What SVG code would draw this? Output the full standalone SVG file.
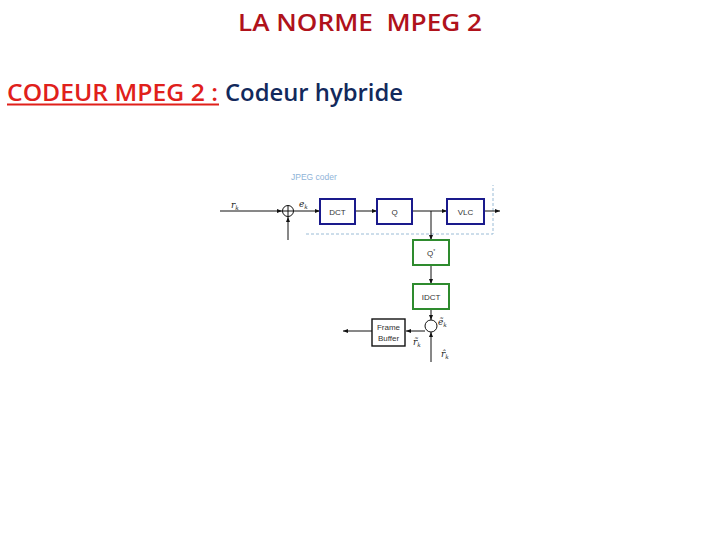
<svg xmlns="http://www.w3.org/2000/svg" width="720" height="540" viewBox="0 0 720 540">
<defs>
<marker id="ah" viewBox="0 0 10 10" refX="10" refY="5" markerWidth="5" markerHeight="5" orient="auto-start-reverse">
<path d="M0,1 L10,5 L0,9 z" fill="#111"/>
</marker>
<style>
.t1{font-family:"Open Sans","Liberation Sans",sans-serif;font-weight:600;font-size:23px;fill:#B0121B}
.t2{font-family:"Open Sans","Liberation Sans",sans-serif;font-weight:600;font-size:23px}
.lbl{font-family:"Liberation Sans",Arial,sans-serif;font-size:8px;fill:#333;text-anchor:middle}
.math{font-family:"DejaVu Serif","Liberation Serif",serif;font-style:italic;font-size:9px;fill:#222}
.sub{font-size:6px}
.blue{fill:#fff;stroke:#1A1A8C;stroke-width:2}
.green{fill:#fff;stroke:#2E8B2E;stroke-width:2}
.blk{fill:#fff;stroke:#111;stroke-width:1.4}
.ln{stroke:#111;stroke-width:1;fill:none}
.dash{stroke:#9BBCD6;stroke-width:1;stroke-dasharray:3,2;fill:none}
</style>
</defs>
<rect width="720" height="540" fill="#fff"/>
<text class="t1" x="360" y="31" text-anchor="middle" textLength="244" lengthAdjust="spacingAndGlyphs" xml:space="preserve">LA NORME  MPEG 2</text>
<text class="t2" x="7" y="101" fill="#E0201B" textLength="211" lengthAdjust="spacingAndGlyphs">CODEUR MPEG 2 :</text>
<line x1="7" y1="104.5" x2="219" y2="104.5" stroke="#E0201B" stroke-width="2"/>
<text class="t2" x="225" y="101" fill="#12295C" textLength="178" lengthAdjust="spacingAndGlyphs">Codeur hybride</text>

<g id="jpeg-boundary">
<path class="dash" d="M306,234 H493 V185"/>
<text x="291" y="180" font-family="Liberation Sans,Arial,sans-serif" font-size="8.5" fill="#8FB4D8">JPEG coder</text>
</g>

<g id="connectors">
<line class="ln" x1="220" y1="211" x2="282" y2="211" marker-end="url(#ah)"/>
<line class="ln" x1="288" y1="240" x2="288" y2="217" marker-end="url(#ah)"/>
<line class="ln" x1="294" y1="211" x2="320" y2="211" marker-end="url(#ah)"/>
<line class="ln" x1="355" y1="211" x2="377" y2="211" marker-end="url(#ah)"/>
<line class="ln" x1="412" y1="211" x2="447" y2="211" marker-end="url(#ah)"/>
<line class="ln" x1="484" y1="211" x2="500" y2="211" marker-end="url(#ah)"/>
<line class="ln" x1="431" y1="211" x2="431" y2="240" marker-end="url(#ah)"/>
<line class="ln" x1="431" y1="265" x2="431" y2="284" marker-end="url(#ah)"/>
<line class="ln" x1="431" y1="309" x2="431" y2="320" marker-end="url(#ah)"/>
<line class="ln" x1="431" y1="362" x2="431" y2="332" marker-end="url(#ah)"/>
<line class="ln" x1="425" y1="331" x2="406" y2="331" marker-end="url(#ah)"/>
<line class="ln" x1="372" y1="331" x2="343" y2="331" marker-end="url(#ah)"/>
</g>

<g id="sum1">
<circle cx="288" cy="211" r="5.5" fill="#fff" stroke="#111" stroke-width="1"/>
<path class="ln" d="M282.5,211 H293.5 M288,205.5 V216.5"/>
</g>
<g id="sum2">
<circle cx="431" cy="326" r="6" fill="#fff" stroke="#111" stroke-width="1"/>
</g>

<g id="dct"><rect class="blue" x="320" y="199" width="35" height="25"/><text class="lbl" x="337.5" y="214.5">DCT</text></g>
<g id="q"><rect class="blue" x="377" y="199" width="35" height="25"/><text class="lbl" x="394.5" y="214.5">Q</text></g>
<g id="vlc"><rect class="blue" x="447" y="199" width="37" height="25"/><text class="lbl" x="465.5" y="214.5">VLC</text></g>
<g id="qinv"><rect class="green" x="413" y="240" width="36" height="25"/><text class="lbl" x="431" y="256">Q<tspan font-size="5" dy="-3">*</tspan></text></g>
<g id="idct"><rect class="green" x="413" y="284" width="36" height="25"/><text class="lbl" x="431" y="300">IDCT</text></g>
<g id="framebuffer"><rect class="blk" x="372" y="319" width="33" height="27"/><text class="lbl" x="388.5" y="330">Frame</text><text class="lbl" x="388.5" y="341">Buffer</text></g>

<g id="labels">
<text class="math" x="231" y="208">r<tspan class="sub" dy="2">k</tspan></text>
<text class="math" x="299" y="207">e<tspan class="sub" dy="2">k</tspan></text>
<text class="math" x="438" y="325">ẽ<tspan class="sub" dy="2">k</tspan></text>
<text class="math" x="413" y="345">r̃<tspan class="sub" dy="2">k</tspan></text>
<text class="math" x="441" y="357">r̂<tspan class="sub" dy="2">k</tspan></text>
</g>
</svg>
